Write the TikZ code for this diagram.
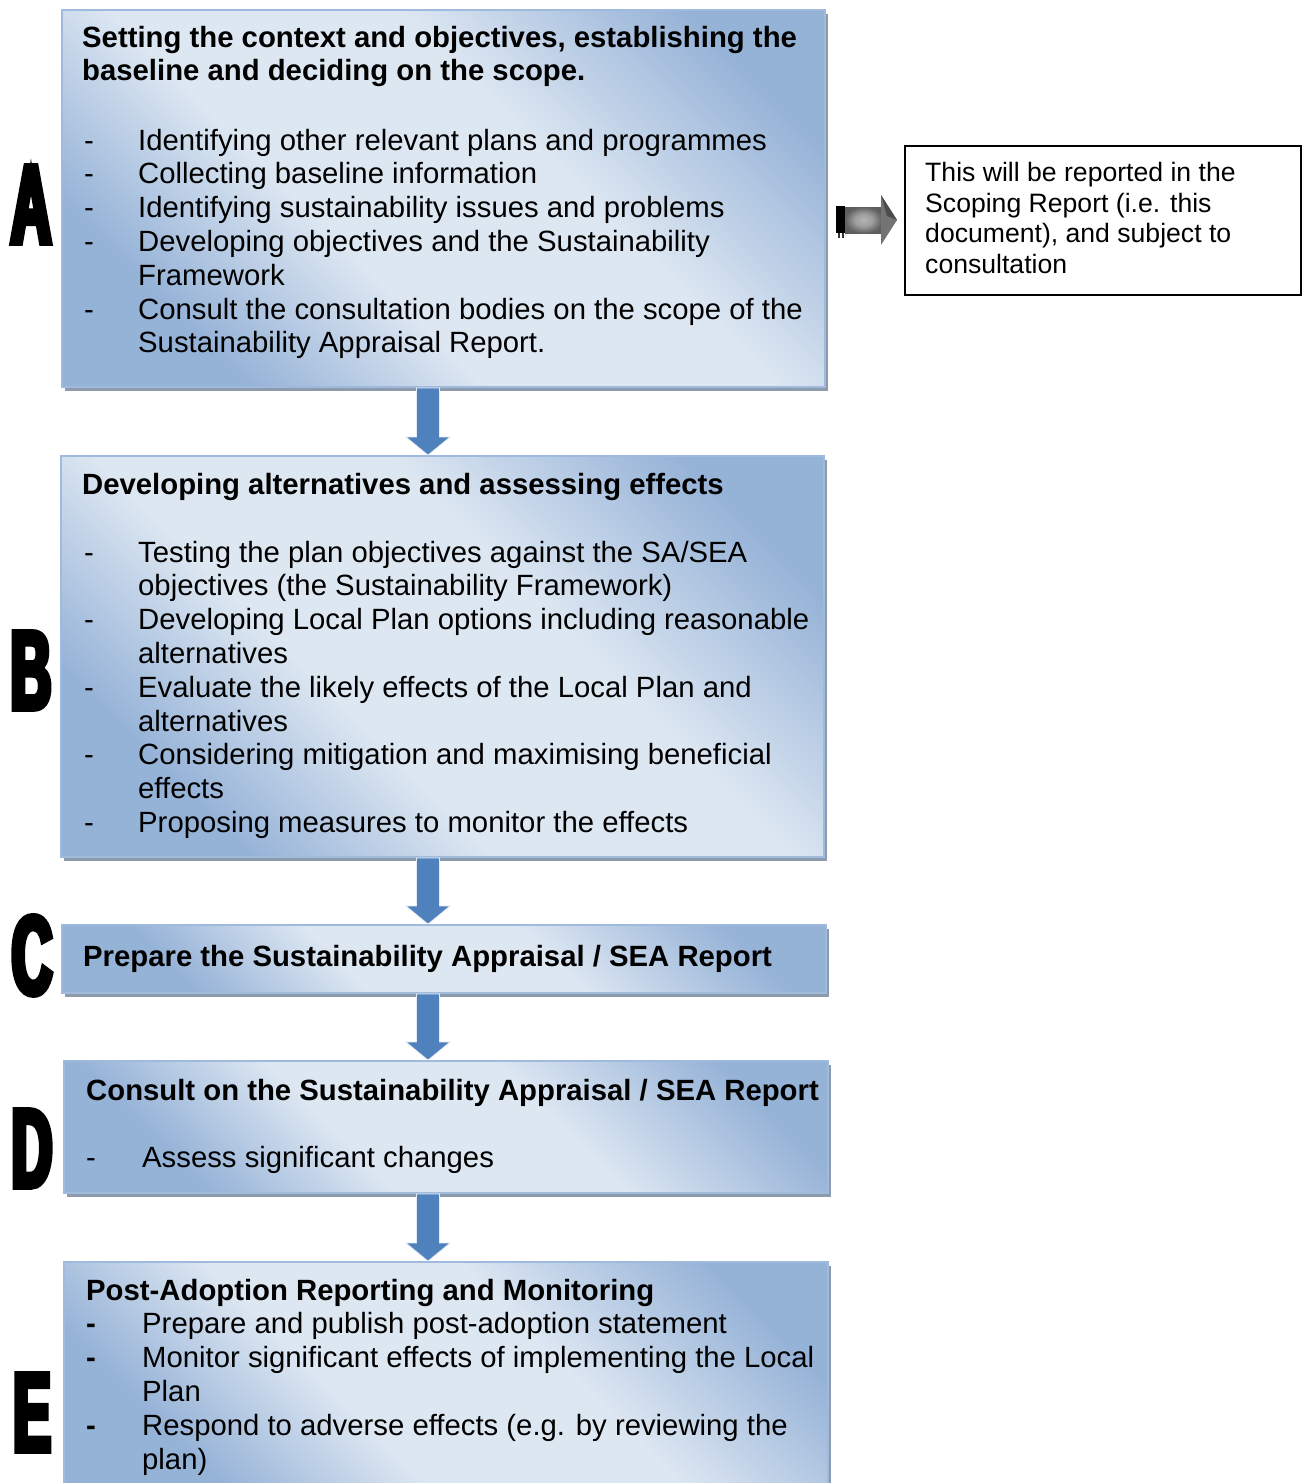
\documentclass[tikz,border=0pt]{standalone}
\usepackage{fontspec}
\setmainfont{Liberation Sans}
\newfontfamily\letterfont{Liberation Sans}[BoldFeatures={FakeStretch=0.5,FakeBold=5}]
\usetikzlibrary{shadows,calc}
\definecolor{bdark}{RGB}{149,178,215}
\definecolor{blight}{RGB}{221,231,242}
\definecolor{bborder}{RGB}{160,186,221}
\definecolor{shgrey}{RGB}{141,155,173}
\definecolor{arrowblue}{RGB}{79,129,189}
\definecolor{arrowshadow}{RGB}{160,168,180}
\pgfdeclareverticalshading{boxshade}{100bp}{color(0bp)=(bdark); color(26bp)=(bdark); color(41bp)=(blight); color(59bp)=(blight); color(77bp)=(bdark); color(100bp)=(bdark)}
\pgfdeclareradialshading{greyshade}{\pgfpoint{0bp}{0bp}}{color(0bp)=(black!30); color(12bp)=(black!38); color(25bp)=(black!62); color(50bp)=(black!70)}
\tikzset{
  stagebox/.style={draw=bborder, line width=2pt, shading=boxshade, shading angle=-45,
    drop shadow={shadow xshift=3pt, shadow yshift=-4pt, fill=shgrey, opacity=1},
    inner sep=0pt},
  txt/.style={inner sep=0pt, anchor=base west, font=\fontsize{29.3}{33.8}\selectfont},
  htxt/.style={txt, font=\fontsize{29.3}{33.8}\selectfont\bfseries},
  sidetxt/.style={inner sep=0pt, anchor=base west, font=\fontsize{26.6}{30.6}\selectfont},
  bigletter/.style={inner sep=0pt, anchor=base, font=\fontsize{112}{112}\selectfont\letterfont\bfseries},
}
\newcommand\flowarrow[2]{%
  \fill[arrowshadow, xshift=3pt, yshift=-3pt] let \p1=(#1), \p2=(#2) in
    (\x1+11.5pt,\y1) -- (\x1+11.5pt,\y2+18pt) -- (\x1+22pt,\y2+18pt) -- (\x1,\y2)
    -- (\x1-22pt,\y2+18pt) -- (\x1-11.5pt,\y2+18pt) -- (\x1-11.5pt,\y1) -- cycle;
  \filldraw[fill=arrowblue, draw=white!85!arrowblue, line width=0.7pt] let \p1=(#1), \p2=(#2) in
    (\x1+11.5pt,\y1) -- (\x1+11.5pt,\y2+18pt) -- (\x1+22pt,\y2+18pt) -- (\x1,\y2)
    -- (\x1-22pt,\y2+18pt) -- (\x1-11.5pt,\y2+18pt) -- (\x1-11.5pt,\y1) -- cycle;
}
\begin{document}
\begin{tikzpicture}[x=1pt,y=-1pt]
\path[use as bounding box, fill=white] (0,0) rectangle (1302,1483);

% stage boxes
\node[stagebox, minimum width=763pt, minimum height=377pt] (A) at (443.5,198.5) {};
\node[stagebox, minimum width=763pt, minimum height=401pt] (B) at (442.5,656.5) {};
\node[stagebox, minimum width=764pt, minimum height=68pt] (C) at (444,959) {};
\node[stagebox, minimum width=764pt, minimum height=132pt] (D) at (446,1127) {};
\node[stagebox, minimum width=764pt, minimum height=228pt] (E) at (446,1376) {};

% side box
\node[draw=black, line width=1.5pt, minimum width=396pt, minimum height=149pt, inner sep=0pt] (S) at (1103,220.5) {};
\node[sidetxt] (s1) at (925,181.5) {This will be reported in the};
\node[sidetxt] (s2) at (925,212.1) {Scoping Report (i.e. this};
\node[sidetxt] (s3) at (925,242.7) {document), and subject to};
\node[sidetxt] (s4) at (925,273.3) {consultation};

% grey arrow from A to side box
\coordinate (g0) at (836,220);
\coordinate (g1) at (897,220);
\fill[black] ($(g0)+(0,-14)$) rectangle ($(g0)+(9,13)$);
\fill[black!80] ($(g0)+(2,13)$) rectangle ($(g0)+(4,18)$);
\fill[black!80] ($(g0)+(6,13)$) rectangle ($(g0)+(8,18)$);
\path[shading=greyshade] ($(g0)+(9,-13)$) rectangle ($(g0)+(46,13)$);
\fill[black!55] ($(g0)+(45,-25)$) -- (g1) -- ($(g0)+(45,25)$) -- cycle;
\fill[black!70] ($(g0)+(45,-25)$) -- (g1) -- ($(g0)+(51,-4)$) -- cycle;

% letters
\node[bigletter] (LA) at (31,243) {A};
\node[bigletter] (LB) at (31,709) {B};
\node[bigletter] (LC) at (32,994) {C};
\node[bigletter] (LD) at (32,1187) {D};
\node[bigletter] (LE) at (32,1451) {E};

% flow arrows
\coordinate (ax) at (428,0);
\flowarrow{A.south -| ax}{B.north -| ax}
\flowarrow{B.south -| ax}{C.north -| ax}
\flowarrow{C.south -| ax}{D.north -| ax}
\flowarrow{D.south -| ax}{E.north -| ax}

% box A text
\node[htxt] (a0) at (82,47) {Setting the context and objectives, establishing the};
\node[htxt] (a1) at (82,80.8) {baseline and deciding on the scope.};
\node[txt] (a2d) at (84,150) {-};
\node[txt] (a2) at (138,150) {Identifying other relevant plans and programmes};
\node[txt] (a3d) at (84,183.8) {-};
\node[txt] (a3) at (138,183.8) {Collecting baseline information};
\node[txt] (a4d) at (84,217.6) {-};
\node[txt] (a4) at (138,217.6) {Identifying sustainability issues and problems};
\node[txt] (a5d) at (84,251.4) {-};
\node[txt] (a5) at (138,251.4) {Developing objectives and the Sustainability};
\node[txt] (a6) at (138,285.2) {Framework};
\node[txt] (a7d) at (84,319) {-};
\node[txt] (a7) at (138,319) {Consult the consultation bodies on the scope of the};
\node[txt] (a8) at (138,352.8) {Sustainability Appraisal Report.};

% box B text
\node[htxt] (b0) at (82,494) {Developing alternatives and assessing effects};
\node[txt] (b1d) at (84,562) {-};
\node[txt] (b1) at (138,562) {Testing the plan objectives against the SA/SEA};
\node[txt] (b2) at (138,595.8) {objectives (the Sustainability Framework)};
\node[txt] (b3d) at (84,629.6) {-};
\node[txt] (b3) at (138,629.6) {Developing Local Plan options including reasonable};
\node[txt] (b4) at (138,663.4) {alternatives};
\node[txt] (b5d) at (84,697.2) {-};
\node[txt] (b5) at (138,697.2) {Evaluate the likely effects of the Local Plan and};
\node[txt] (b6) at (138,731) {alternatives};
\node[txt] (b7d) at (84,764.8) {-};
\node[txt] (b7) at (138,764.8) {Considering mitigation and maximising beneficial};
\node[txt] (b8) at (138,798.6) {effects};
\node[txt] (b9d) at (84,832.4) {-};
\node[txt] (b9) at (138,832.4) {Proposing measures to monitor the effects};

% box C text
\node[htxt] (c0) at (83,966) {Prepare the Sustainability Appraisal / SEA Report};

% box D text
\node[htxt] (d0) at (86,1100) {Consult on the Sustainability Appraisal / SEA Report};
\node[txt] (d1d) at (86,1167) {-};
\node[txt] (d1) at (142,1167) {Assess significant changes};

% box E text
\node[htxt] (e0) at (86,1300) {Post-Adoption Reporting and Monitoring};
\node[htxt] (e1d) at (86,1333.8) {-};
\node[txt] (e1) at (142,1333.8) {Prepare and publish post-adoption statement};
\node[htxt] (e2d) at (86,1367.6) {-};
\node[txt] (e2) at (142,1367.6) {Monitor significant effects of implementing the Local};
\node[txt] (e3) at (142,1401.4) {Plan};
\node[htxt] (e4d) at (86,1435.2) {-};
\node[txt] (e4) at (142,1435.2) {Respond to adverse effects (e.g. by reviewing the};
\node[txt] (e5) at (142,1469) {plan)};
\end{tikzpicture}
\end{document}
